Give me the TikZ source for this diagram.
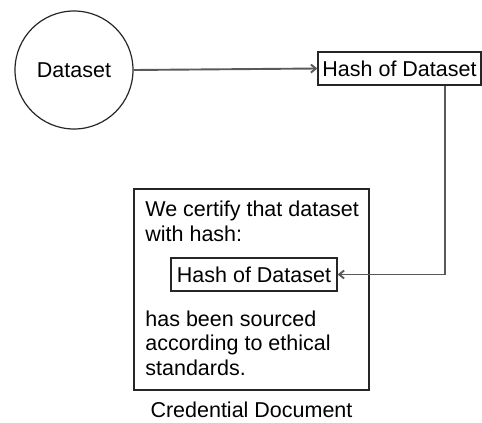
\documentclass[tikz,border=0pt]{standalone}
\usepackage{fontspec}
\setmainfont{Liberation Sans}
\usepackage{xcolor}
\usetikzlibrary{arrows.meta, positioning}

\begin{document}
\begin{tikzpicture}[x=1pt, y=-1pt, thick, >={Straight Barb[length=5pt, width=8pt]},
        font=\fontsize{21.5}{24.5}\selectfont,
        box/.style={draw=black!85, line width=1.2pt, rectangle, inner sep=3pt},
        link/.style={->, draw=black!65, line width=1.9pt}]
        \useasboundingbox (0,0) rectangle (482,423);

        % Nodes
        \node[draw=black!85, line width=1.2pt, circle, minimum size=118pt] (dataset) at (74,70) {Dataset};
        \node[box, minimum width=163pt, minimum height=33pt] (hash) at (399.5,68.5) {Hash of Dataset};

        % Credential
        \node[box, minimum width=235pt, minimum height=201pt] (doc) at (251.5,289.5) {};
        \node[anchor=base west, align=left, inner sep=0pt] (certify) at (145,241) {We certify that dataset\\with hash:};
        \node[box, minimum width=166pt, minimum height=33pt] (innerhash) at (254,274.5) {Hash of Dataset};
        \node[anchor=base west, align=left, inner sep=0pt] (sourced) at (145,375) {has been sourced\\according to ethical\\standards.};
        \node[below=11pt of doc, inner sep=0pt] (caption) {Credential Document};

        % Hash-pijlen
        \draw[link] (dataset.east) -- (hash.west);
        \draw[link] ([xshift=45.5pt]hash.south) |- (innerhash.east);
    \end{tikzpicture}
\end{document}
